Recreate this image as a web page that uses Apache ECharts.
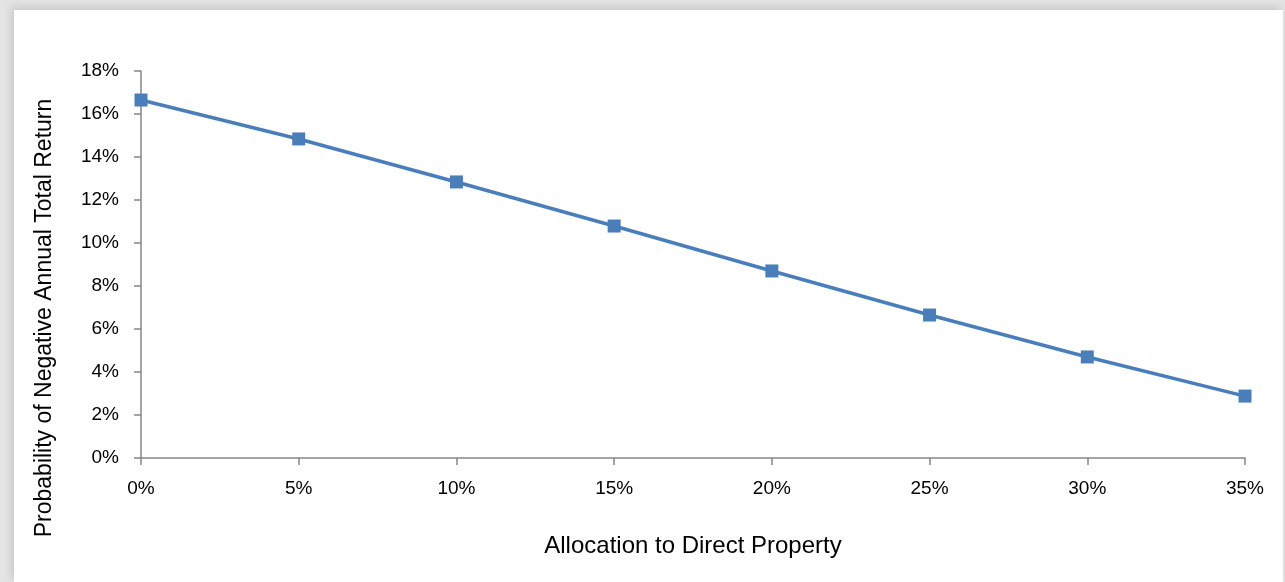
<!DOCTYPE html>
<html><head><meta charset="utf-8">
<script src="https://cdn.jsdelivr.net/npm/echarts@6/dist/echarts.min.js"></script>
<style>
html,body{margin:0;padding:0;width:1285px;height:582px;overflow:hidden;background:#e4e4e4;}
#panel{position:absolute;left:14px;top:10px;width:1269px;height:572px;background:#fff;box-shadow:-3px -3px 8px rgba(0,0,0,0.12);}
#chart{position:absolute;left:0;top:0;width:1285px;height:582px;}
</style></head>
<body>
<div id="panel"></div>
<div id="chart"></div>
<script>
var allocation = [0, 0.05, 0.10, 0.15, 0.20, 0.25, 0.30, 0.35];
var probability = [0.1665, 0.1484, 0.1284, 0.1079, 0.0870, 0.0665, 0.0470, 0.0288];
var xTitle = 'Allocation to Direct Property';
var yTitle = 'Probability of Negative Annual Total Return';

var chart = echarts.init(document.getElementById('chart'), null, {renderer:'canvas'});
var font = '"Liberation Sans", Arial, sans-serif';
var axisGray = '#868686';
chart.setOption({
  animation:false,
  backgroundColor:'transparent',
  grid:{left:141, right:40, top:71, bottom:124, containLabel:false},
  graphic:[{
    type:'text', x:45, y:318, rotation:Math.PI/2,
    style:{text:yTitle, fontFamily:font, fontSize:23, fill:'#000', align:'center', verticalAlign:'middle'}
  }],
  xAxis:{
    type:'value', min:0, max:0.35, interval:0.05,
    name:xTitle, nameLocation:'middle', nameGap:76,
    nameTextStyle:{fontFamily:font, fontSize:24, color:'#000'},
    axisLine:{show:true, onZero:false, lineStyle:{color:axisGray, width:1.5}},
    axisTick:{show:true, length:7, inside:false, lineStyle:{color:axisGray, width:1.5}},
    axisLabel:{fontFamily:font, fontSize:19, color:'#000', margin:21,
      formatter:function(v){return Math.round(v*100)+'%';}},
    splitLine:{show:false}
  },
  yAxis:{
    type:'value', min:0, max:0.18, interval:0.02,
    axisLine:{show:true, lineStyle:{color:axisGray, width:1.5}},
    axisTick:{show:true, length:7, inside:false, lineStyle:{color:axisGray, width:1.5}},
    axisLabel:{fontFamily:font, fontSize:19, color:'#000', margin:22,
      formatter:function(v){return Math.round(v*100)+'%';}},
    splitLine:{show:false}
  },
  series:[{
    type:'line',
    data: allocation.map(function(a,i){return [a, probability[i]];}),
    symbol:'rect', symbolSize:13,
    lineStyle:{color:'#4a7ebb', width:3.5},
    itemStyle:{color:'#4a7ebb'},
    clip:false
  }]
});
</script>
</body></html>
